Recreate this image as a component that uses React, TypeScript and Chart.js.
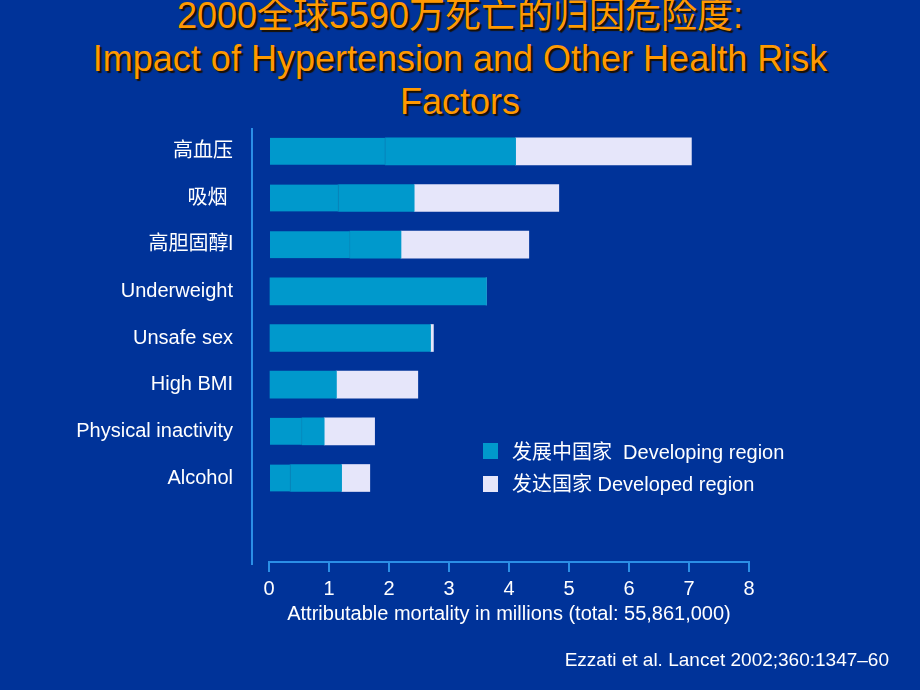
import React, { useEffect, useRef } from "react";
import { Chart, registerables } from "chart.js";

Chart.register(...registerables);

const categories = ["高血压", "吸烟 ", "高胆固醇l", "Underweight", "Unsafe sex", "High BMI", "Physical inactivity", "Alcohol"];
const developingA = [1.94, 1.16, 1.35, 3.62, 2.69, 1.12, 0.55, 0.36];
const developingB = [2.17, 1.26, 0.85, 0, 0, 0, 0.37, 0.85];
const developed = [2.93, 2.41, 2.13, 0, 0.05, 1.36, 0.84, 0.47];
const xTickValues = [0, 1, 2, 3, 4, 5, 6, 7, 8];

const BG = "#003399";
const BLUE = "#0099cc";
const LAVENDER = "#e6e6fa";
const AXIS = "#2b8fe6";
const FONT = "'Liberation Sans', Arial, 'Noto Sans CJK SC', sans-serif";

const leftLine = {
  id: "leftLine",
  afterDraw(chart: any) {
    const { ctx, chartArea, scales } = chart;
    const x = scales.x.left - 17;
    ctx.save();
    ctx.strokeStyle = AXIS;
    ctx.lineWidth = 2;
    ctx.beginPath();
    ctx.moveTo(x, chartArea.top);
    ctx.lineTo(x, chartArea.bottom + 3);
    ctx.stroke();
    ctx.restore();
  },
};

export default function App() {
  const ref = useRef<HTMLCanvasElement>(null);
  useEffect(() => {
    if (!ref.current) return;
    const toPts = (arr: number[]) => arr.map((v, i) => ({ x: v, y: i }));
    const chart = new Chart(ref.current, {
      type: "bar",
      data: {
        datasets: [
          {
            label: "发展中国家 A",
            data: toPts(developingA),
            backgroundColor: BLUE,
            borderColor: "#0788bb",
            borderWidth: (c: any) => (developingB[c.dataIndex] > 0 ? { right: 1, left: 0, top: 0, bottom: 0 } : 0),
            borderSkipped: false,
            barThickness: 27,
          },
          {
            label: "发展中国家 B",
            data: toPts(developingB),
            backgroundColor: BLUE,
            borderWidth: 0,
            barThickness: 27,
          },
          {
            label: "发达国家",
            data: toPts(developed),
            backgroundColor: LAVENDER,
            borderWidth: 0,
            barThickness: 27,
          },
        ],
      } as any,
      options: {
        animation: false,
        responsive: false,
        indexAxis: "y",
        layout: { padding: { top: 128, right: 171, bottom: 0, left: 0 } },
        plugins: { legend: { display: false }, tooltip: { enabled: false }, title: { display: false } },
        scales: {
          x: {
            type: "linear",
            stacked: true,
            min: 0,
            max: 8,
            afterBuildTicks: (s: any) => {
              s.ticks = xTickValues.map((v) => ({ value: v }));
            },
            afterFit: (s: any) => {
              s.height = 128;
            },
            grid: { display: true, drawOnChartArea: false, drawTicks: true, tickLength: 10, color: AXIS, lineWidth: 2 },
            border: { display: true, color: AXIS, width: 2 },
            ticks: { color: "#ffffff", font: { family: FONT, size: 20 }, padding: 5, maxRotation: 0 },
            title: {
              display: true,
              text: "Attributable mortality in millions (total: 55,861,000)",
              color: "#ffffff",
              font: { family: FONT, size: 20 },
              padding: { top: 0, bottom: 64 },
            },
          },
          y: {
            type: "linear",
            stacked: true,
            reverse: true,
            offset: false,
            min: -0.5,
            max: 8.8,
            afterBuildTicks: (s: any) => {
              s.ticks = categories.map((_, i) => ({ value: i }));
            },
            afterFit: (s: any) => {
              s.width = 269;
            },
            grid: { display: false, drawTicks: false, offset: false },
            border: { display: false },
            ticks: {
              color: "#ffffff",
              font: { family: FONT, size: 20 },
              padding: 36,
              callback: (v: any) => categories[v as number] ?? "",
            },
          },
        },
      } as any,
      plugins: [leftLine],
    });
    return () => chart.destroy();
  }, []);

  const textStyle: React.CSSProperties = { fontFamily: FONT, color: "#ffffff", fontSize: 20, position: "absolute", whiteSpace: "pre" };
  return (
    <div style={{ position: "absolute", left: 0, top: 0, width: 920, height: 690, background: BG, overflow: "hidden" }}>
      <div
        style={{
          position: "absolute",
          left: 0,
          top: -6,
          width: 920,
          textAlign: "center",
          fontFamily: FONT,
          fontSize: 36,
          lineHeight: "43px",
          color: "#ff9900",
          textShadow: "2px 2px 1px #1a1000",
        }}
      >
        <div>2000全球5590万死亡的归因危险度:</div>
        <div>Impact of Hypertension and Other Health Risk</div>
        <div>Factors</div>
      </div>
      <canvas ref={ref} width={920} height={690} style={{ position: "absolute", left: 0, top: 0 }} />
      <div style={{ position: "absolute", left: 483, top: 443, width: 15, height: 16, background: BLUE }} />
      <div style={{ position: "absolute", left: 483, top: 476, width: 15, height: 16, background: LAVENDER }} />
      <div style={{ ...textStyle, left: 512, top: 440, lineHeight: "24px" }}>发展中国家  Developing region</div>
      <div style={{ ...textStyle, left: 512, top: 472, lineHeight: "24px" }}>发达国家 Developed region</div>
      <div style={{ ...textStyle, fontSize: 19, right: 31, top: 648, lineHeight: "24px" }}>Ezzati et al. Lancet 2002;360:1347–60</div>
    </div>
  );
}
